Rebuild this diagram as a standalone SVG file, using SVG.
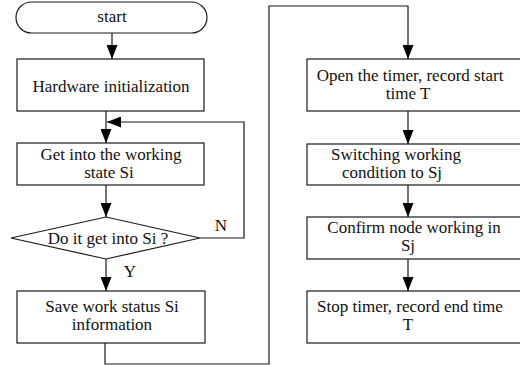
<svg xmlns="http://www.w3.org/2000/svg" width="520" height="365" viewBox="0 0 520 365">
<style>
.box{fill:#fff;stroke:#1a1a1a;stroke-width:1.2}
.t{font-family:'Liberation Serif','DejaVu Serif',serif;font-size:17px;fill:#111;text-anchor:middle}
.c{fill:none;stroke:#1a1a1a;stroke-width:1.2}
</style>
<defs>
<marker id="ah" markerUnits="userSpaceOnUse" viewBox="0 0 14 11" markerWidth="14" markerHeight="11" refX="14" refY="5.5" orient="auto">
<path d="M0,0 L14,5.5 L0,11 z" fill="#000"/>
</marker>
</defs>
<rect width="520" height="365" fill="#fff"/>
<g id="connectors">
<line class="c" x1="112" y1="33" x2="112" y2="59" marker-end="url(#ah)"/>
<line class="c" x1="106" y1="111" x2="106" y2="143" marker-end="url(#ah)"/>
<polyline class="c" points="200,238 244,238 244,122 107,122" marker-end="url(#ah)"/>
<line class="c" x1="106" y1="185" x2="106" y2="217" marker-end="url(#ah)"/>
<line class="c" x1="106" y1="259" x2="106" y2="291" marker-end="url(#ah)"/>
<polyline class="c" points="105,343 105,364 269,364 269,6 408,6 408,59" marker-end="url(#ah)"/>
<line class="c" x1="408" y1="111" x2="408" y2="144" marker-end="url(#ah)"/>
<line class="c" x1="408" y1="185" x2="408" y2="217" marker-end="url(#ah)"/>
<line class="c" x1="408" y1="259" x2="408" y2="291" marker-end="url(#ah)"/>
<text class="t" font-family="Liberation Serif, serif" x="221" y="231">N</text>
<text class="t" font-family="Liberation Serif, serif" x="130" y="277">Y</text>
</g>
<g id="start">
<rect class="box" x="16" y="2" width="191" height="31" rx="15.5"/>
<text class="t" x="112" y="22">start</text>
</g>
<g id="hw-init">
<rect class="box" x="17" y="59" width="187" height="52"/>
<text class="t" x="111" y="92">Hardware initialization</text>
</g>
<g id="get-into">
<rect class="box" x="17" y="143" width="187" height="42"/>
<text class="t" x="111" y="160">Get into the working</text>
<text class="t" x="109" y="178">state Si</text>
</g>
<g id="decision">
<polygon class="box" points="11,238 106,217 200,238 106,259"/>
<text class="t" x="108" y="244">Do it get into Si ?</text>
</g>
<g id="save">
<rect class="box" x="17" y="291" width="188" height="52"/>
<text class="t" x="112" y="312">Save work status Si</text>
<text class="t" x="112" y="330">information</text>
</g>
<g id="open-timer">
<rect class="box" x="307" y="59" width="216" height="52"/>
<text class="t" x="410" y="81">Open the timer, record start</text>
<text class="t" x="408" y="99">time T</text>
</g>
<g id="switching">
<rect class="box" x="307" y="144" width="216" height="41"/>
<text class="t" x="396" y="160">Switching working</text>
<text class="t" x="392" y="178">condition to Sj</text>
</g>
<g id="confirm">
<rect class="box" x="307" y="217" width="216" height="42"/>
<text class="t" x="414" y="233">Confirm node working in</text>
<text class="t" x="408" y="251">Sj</text>
</g>
<g id="stop">
<rect class="box" x="307" y="291" width="216" height="52"/>
<text class="t" x="410" y="312">Stop timer, record end time</text>
<text class="t" x="408" y="330">T</text>
</g>
</svg>
